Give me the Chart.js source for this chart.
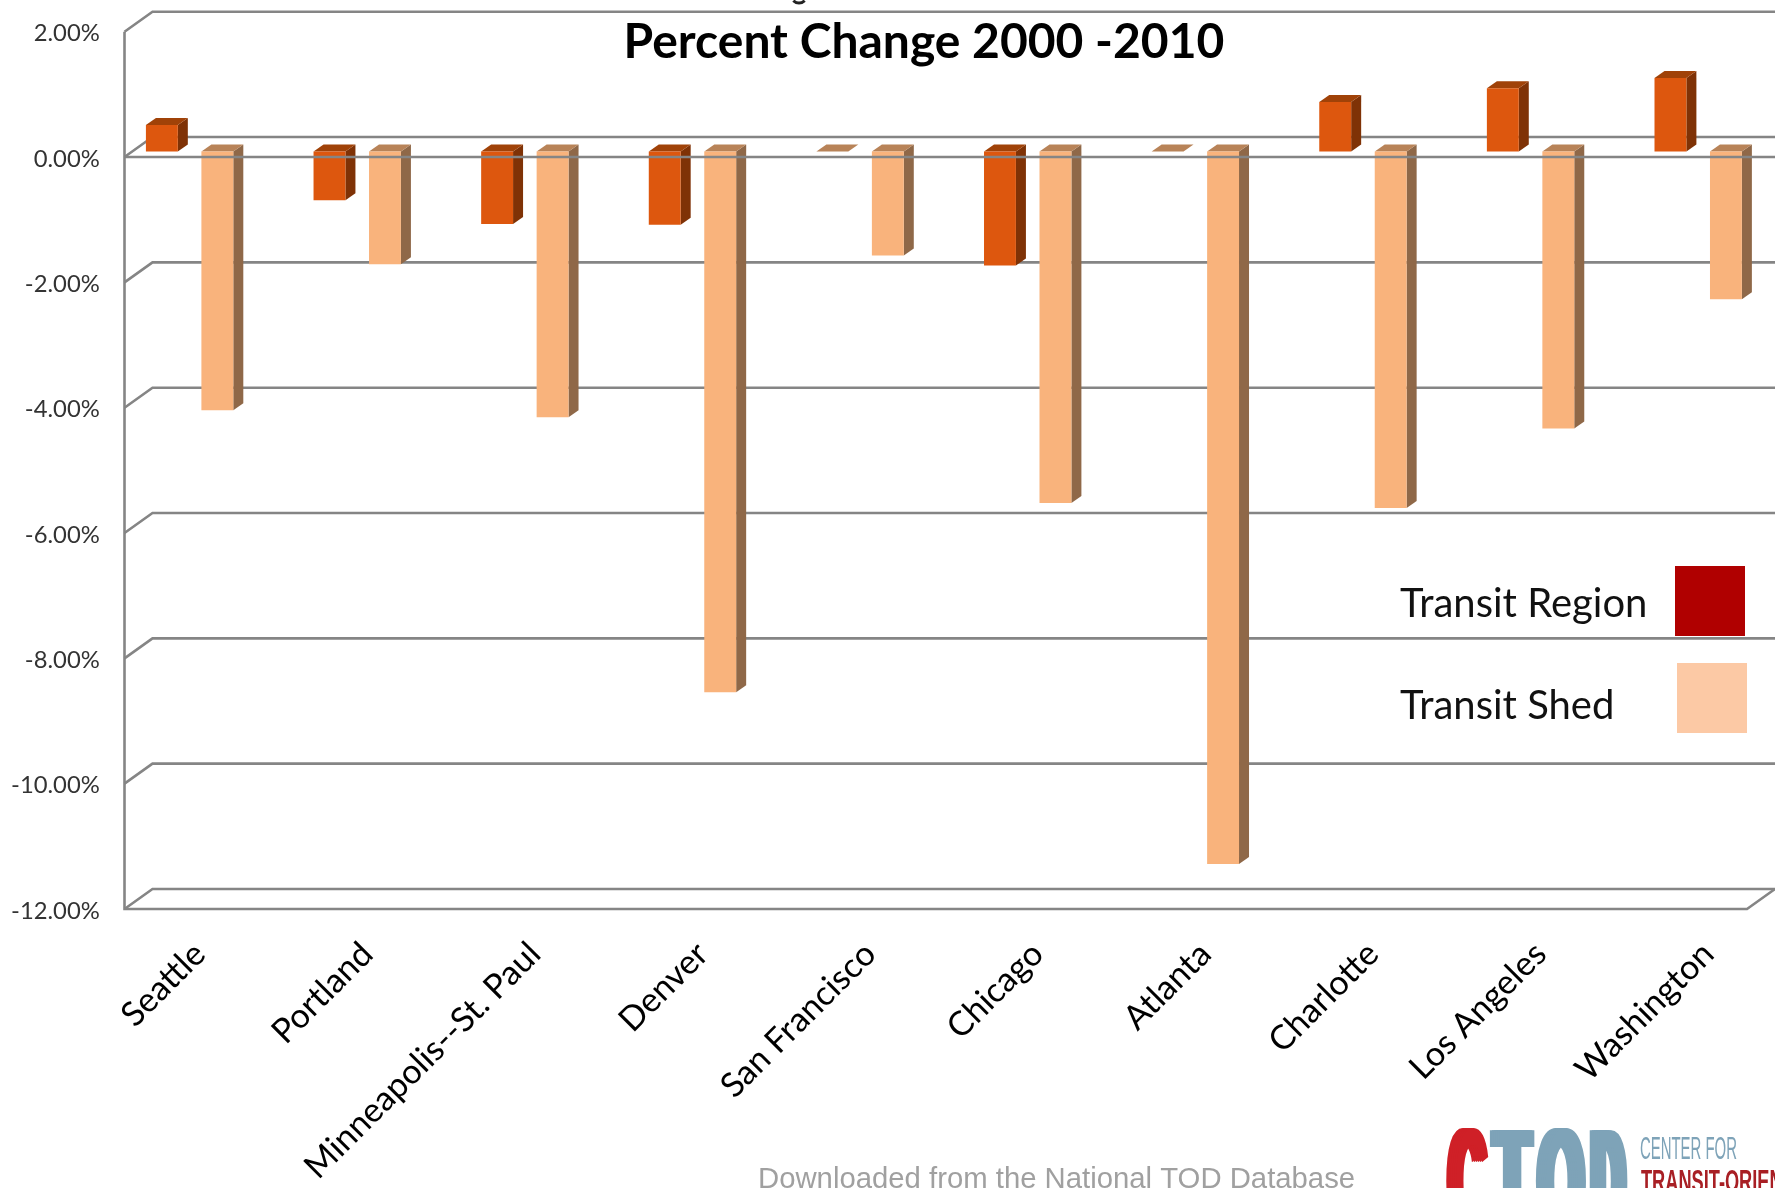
<!DOCTYPE html>
<html>
<head>
<meta charset="utf-8">
<style>
html,body{margin:0;padding:0;background:#fff;overflow:hidden;width:1775px;height:1188px}
#wrap{width:1775px;height:1188px;overflow:hidden;position:relative}
canvas{display:block}
</style>
<script src="https://cdn.jsdelivr.net/npm/chart.js@4/dist/chart.umd.min.js"></script>
</head>
<body>
<div id="wrap"><canvas id="c" width="1790" height="1188" style="width:1790px;height:1188px"></canvas></div>
<script>
const categories = ["Seattle","Portland","Minneapolis--St. Paul","Denver","San Francisco","Chicago","Atlanta","Charlotte","Los Angeles","Washington"];
const transitRegion = [0.42,-0.78,-1.16,-1.17,0,-1.82,0,0.79,1.01,1.17];
const transitShed = [-4.13,-1.80,-4.24,-8.63,-1.66,-5.61,-11.37,-5.69,-4.42,-2.36];
const seriesNames = ["Transit Region","Transit Shed"];
const titleText = "Percent Change 2000 -2010";
const footText = "Downloaded from the National TOD Database";

const FONT = 'Lato, Carlito, "Open Sans", sans-serif';
const DX = 28, DY = 20;         // wall depth
const BX = 10, BY = 7;          // bar depth
const BAR_LIFT = 5.6;
const GRID = '#858585';

const faces = [
  {front:'#dd570e', side:'#7f3206', top:'#a04208'},
  {front:'#f9b37c', side:'#8f6848', top:'#b88358'}
];

function logoLetter(ctx, ch, x, sx, color){
  ctx.save();
  ctx.fillStyle = color;
  ctx.font = 'bold 150px "Liberation Sans Narrow", "Liberation Sans", sans-serif';
  ctx.textBaseline = 'alphabetic'; ctx.textAlign = 'center';
  for(let dx=-5; dx<=5; dx+=2){
    ctx.save();
    ctx.translate(x+dx, 1234);
    ctx.scale(sx, 1);
    ctx.fillText(ch, 0, 0);
    ctx.restore();
  }
  ctx.restore();
}

const threeD = {
  id:'threeD',
  beforeDatasetsDraw(chart){
    const {ctx, chartArea:a, scales:{y}} = chart;
    const left = a.left + 18.7, right = 1747;
    ctx.save();
    ctx.strokeStyle = GRID; ctx.lineWidth = 2.6;
    y.ticks.forEach(t=>{
      const p = y.getPixelForValue(t.value);
      ctx.beginPath();
      ctx.moveTo(left, p);
      ctx.lineTo(left+DX, p-DY);
      ctx.lineTo(1790, p-DY);
      ctx.stroke();
    });
    const bot = y.getPixelForValue(y.min), top = y.getPixelForValue(y.max);
    ctx.beginPath();
    ctx.moveTo(left, top); ctx.lineTo(left, bot); ctx.lineTo(right, bot); ctx.lineTo(right+DX, bot-DY);
    ctx.stroke();
    chart.data.datasets.forEach((ds,i)=>{
      const f = faces[i];
      chart.getDatasetMeta(i).data.forEach(bar=>{
        const {x, y:vy, base, width} = bar.getProps(['x','y','base','width'],true);
        const l = x-width/2, r = x+width/2;
        const t = Math.min(vy,base)-BAR_LIFT, b = Math.max(vy,base)-BAR_LIFT;
        const flat = b-t < 1;
        if(!flat){
          ctx.fillStyle = f.side;
          ctx.beginPath();
          ctx.moveTo(r,t);ctx.lineTo(r+BX,t-BY);ctx.lineTo(r+BX,b-BY);ctx.lineTo(r,b);ctx.closePath();ctx.fill();
        }
        ctx.fillStyle = flat ? faces[1].top : f.top;
        ctx.beginPath();
        ctx.moveTo(l,t);ctx.lineTo(l+BX,t-BY);ctx.lineTo(r+BX,t-BY);ctx.lineTo(r,t);ctx.closePath();ctx.fill();
      });
    });
    ctx.restore();
    ctx.save();
    ctx.translate(0,-BAR_LIFT);
  },
  afterDatasetsDraw(chart){
    const {ctx, chartArea:a, scales:{y}} = chart;
    ctx.restore();
    const p = y.getPixelForValue(0);
    ctx.save();
    ctx.strokeStyle = GRID; ctx.lineWidth = 2.6;
    ctx.beginPath(); ctx.moveTo(a.left+18.7,p); ctx.lineTo(1790,p); ctx.stroke();
    ctx.restore();

    ctx.save();
    // tail of the cropped line above the title
    ctx.strokeStyle='#222'; ctx.lineWidth=3;
    ctx.beginPath(); ctx.arc(799,-5,8,0.25*Math.PI,0.75*Math.PI); ctx.stroke();
    // title
    ctx.fillStyle = '#000'; ctx.textBaseline='alphabetic';
    ctx.font = 'bold 48px '+FONT; ctx.textAlign='center';
    ctx.fillText(titleText, 924, 58);
    // legend
    ctx.textAlign='left'; ctx.font='40px '+FONT; ctx.fillStyle='#111';
    ctx.fillText(seriesNames[0], 1400, 617);
    ctx.fillText(seriesNames[1], 1400, 719);
    ctx.fillStyle='#b00000'; ctx.fillRect(1675,566,70,70);
    ctx.fillStyle='#fcc9a5'; ctx.fillRect(1677,663,70,70);
    // footer
    ctx.fillStyle='#a0a0a0'; ctx.font='29.3px "Liberation Sans", Arial, sans-serif';
    ctx.fillText(footText, 758, 1188);
    // logo
    logoLetter(ctx,'C',1467,0.33,'#cf2027');
    logoLetter(ctx,'T',1512,0.39,'#7ea3b8');
    logoLetter(ctx,'O',1561,0.385,'#7ea3b8');
    logoLetter(ctx,'D',1608,0.30,'#7ea3b8');
    ctx.textAlign='left'; ctx.textBaseline='alphabetic';
    ctx.fillStyle='#7ea3b8'; ctx.font='32px "Liberation Sans Narrow", "Liberation Sans", sans-serif';
    ctx.fillText('CENTER FOR',1640,1159,97);
    ctx.fillStyle='#a81f24'; ctx.font='bold 32px "Liberation Sans Narrow", "Liberation Sans", sans-serif';
    ctx.fillText('TRANSIT-ORIENTED',1641,1192,178);
    ctx.restore();
  }
};

new Chart(document.getElementById('c'),{
  type:'bar',
  data:{
    labels:categories,
    datasets:[
      {label:seriesNames[0],data:transitRegion,backgroundColor:faces[0].front,borderWidth:0,clip:false},
      {label:seriesNames[1],data:transitShed,backgroundColor:faces[1].front,borderWidth:0,clip:false}
    ]
  },
  plugins:[threeD],
  options:{
    responsive:false,
    animation:false,
    layout:{padding:{top:31.7,right:8,left:0,bottom:0}},
    plugins:{legend:{display:false},title:{display:false},tooltip:{enabled:false}},
    datasets:{bar:{categoryPercentage:0.662,barPercentage:0.575}},
    scales:{
      x:{
        grid:{display:false,drawTicks:false},border:{display:false},
        afterFit(s){s.height=1188-909;},
        ticks:{maxRotation:45,minRotation:45,autoSkip:false,padding:25,labelOffset:10,color:'#000',font:{family:FONT,size:34}}
      },
      y:{
        min:-12,max:2,
        afterFit(s){s.width=105.8;},
        grid:{display:false,drawTicks:false},border:{display:false},
        ticks:{stepSize:2,padding:6,labelOffset:2,color:'#333',font:{family:FONT,size:23.8},callback:v=>v.toFixed(2)+'%'}
      }
    }
  }
});
</script>
</body>
</html>
